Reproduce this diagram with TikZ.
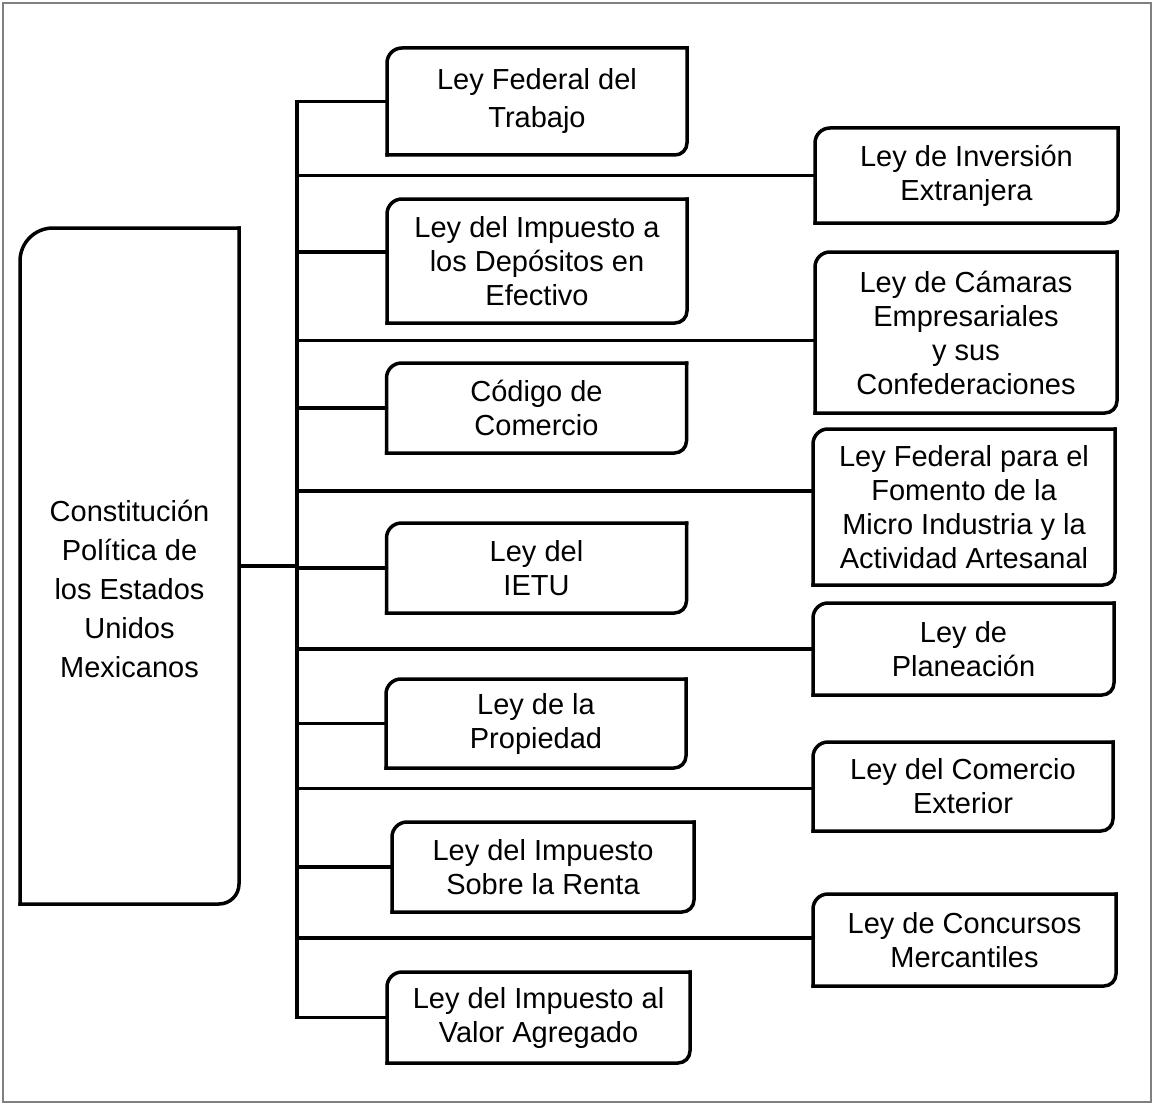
\documentclass[tikz,border=0pt]{standalone}
\usepackage{fontspec}
\setmainfont{Liberation Sans}
\usepackage{tikz}

\begin{document}
\begin{tikzpicture}[
    x=1pt, y=-1pt,
    law/.style={align=center, inner sep=0pt, outer sep=0pt, minimum width=300pt, minimum height=90pt, font=\fontsize{29}{34}\selectfont},
    lawframe/.style={draw, line width=3.5pt, line cap=rect},
    link/.style={draw, line width=3.5pt},
    border/.style={draw=gray, line width=1.5pt}
]
\useasboundingbox (0,0) rectangle (1154,1105);
\draw[border] (3,3) rectangle (1151,1102);

% Constitucion (left)
\node[law, minimum width=219pt, minimum height=676pt] (const) at (129.5,566) {};
\node[law, font=\fontsize{29}{39}\selectfont] (consttxt) at ([yshift=-23pt]const.center) {Constitución\\Política de\\los Estados\\Unidos\\Mexicanos};

% Leyes - left column
\node[law, minimum height=107pt, font=\fontsize{29}{38}\selectfont] (trab) at (537,101.5) {Ley Federal del\\Trabajo};
\node[law, minimum height=124pt] (dep) at (537,261) {Ley del Impuesto a\\los Depósitos en\\Efectivo};
\node[law] (cod) at (536.5,408) {Código de\\Comercio};
\node[law] (ietu) at (536.5,568) {Ley del\\IETU};
\node[law, minimum height=89pt] (prop) at (536,723.5) {Ley de la\\Propiedad};
\node[law, minimum width=302pt] (renta) at (543,867) {Ley del Impuesto\\Sobre la Renta};
\node[law, minimum width=303pt, minimum height=91pt] (iva) at (538.5,1017.5) {Ley del Impuesto al\\Valor Agregado};

% Leyes - right column
\node[law, minimum width=303pt, minimum height=95pt] (inv) at (966.5,175.5) {Ley de Inversión\\Extranjera};
\node[law, minimum width=302pt, minimum height=161pt] (cam) at (966,332.5) {Ley de Cámaras\\Empresariales\\y sus\\Confederaciones};
\node[law, minimum width=302pt, minimum height=156pt] (fom) at (964,507) {Ley Federal para el\\Fomento de la\\Micro Industria y la\\Actividad Artesanal};
\node[law, minimum width=301pt, minimum height=92pt] (plan) at (963.5,649) {Ley de\\Planeación};
\node[law, minimum height=89pt] (cext) at (963,786.5) {Ley del Comercio\\Exterior};
\node[law, minimum width=303pt, minimum height=92pt] (conc) at (964.5,940) {Ley de Concursos\\Mercantiles};

% Frames: round top left and bottom right
\foreach \n/\ra/\rb in {const/33/20, trab/15/12, dep/15/12, cod/15/12, ietu/15/12, prop/15/12, renta/15/12, iva/15/12,
                        inv/15/12, cam/15/12, fom/15/12, plan/15/12, cext/15/12, conc/15/12}{
  \draw[lawframe, rounded corners=\ra pt] (\n.south west) -- (\n.north west) -- (\n.north east);
  \draw[lawframe, rounded corners=\rb pt] (\n.north east) -- (\n.south east) -- (\n.south west);
}

% Trunk
\coordinate (trunk) at (297,567);
\draw[link] (trab.west) -- (trab.west -| trunk) -- (iva.west -| trunk) -- (iva.west);
\draw[link] (const.east) -- (const.east -| trunk);

% Branches
\foreach \n in {cod, ietu, prop, renta}
  \draw[link] (\n.west) -- (\n.west -| trunk);
\draw[link] ([yshift=9pt]dep.west) -- ([yshift=9pt]dep.west -| trunk);
\foreach \n/\s in {inv/0, cam/-8, fom/16, plan/0, cext/-2, conc/2}
  \draw[link] ([yshift=\s pt]\n.west) -- ([yshift=\s pt]\n.west -| trunk);

\end{tikzpicture}
\end{document}
